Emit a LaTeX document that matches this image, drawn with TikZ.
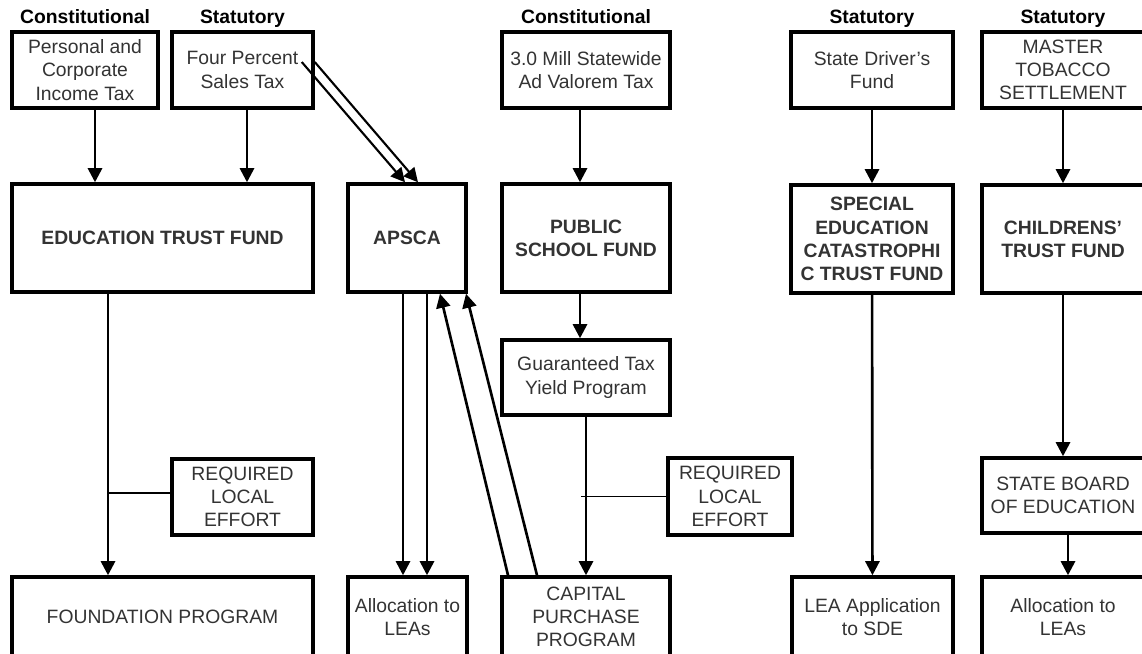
\documentclass[tikz,border=0pt]{standalone}
\usepackage{fontspec}
\setmainfont{Liberation Sans}
\usetikzlibrary{positioning,arrows.meta}

\definecolor{boxtext}{HTML}{333333}

\tikzset{
  fundbox/.style={draw, line width=2pt, align=center, inner sep=2pt, text=boxtext,
    font=\fontsize{11pt}{13.2pt}\selectfont},
  boldbox/.style={fundbox, font=\fontsize{11pt}{13.2pt}\selectfont\bfseries},
  heading/.style={inner sep=1pt, text height=8pt, text depth=2.5pt,
    font=\fontsize{11pt}{13.2pt}\selectfont\bfseries},
  flow/.style={line width=1.5pt, -{Triangle[width=8pt,length=8pt]}},
  tie/.style={line width=0.8pt}
}

\begin{document}
\begin{tikzpicture}[x=0.02cm, y=-0.02cm]
\useasboundingbox (0,0) rectangle (1142,653);

    % Draw revenue sources
    \node[fundbox, minimum width=2.92cm, minimum height=1.52cm] (income) at (85,70) {Personal and\\Corporate\\Income Tax};
    \node[fundbox, minimum width=2.82cm, minimum height=1.52cm] (sales) at (242.5,70) {Four Percent\\Sales Tax};
    \node[fundbox, minimum width=3.36cm, minimum height=1.52cm] (mill) at (586,70) {3.0 Mill Statewide\\Ad Valorem Tax};
    \node[fundbox, minimum width=3.24cm, minimum height=1.52cm] (driver) at (872,70) {State Driver's\\Fund};
    \node[fundbox, minimum width=3.24cm, minimum height=1.52cm] (tobacco) at (1063,70) {MASTER\\TOBACCO\\SETTLEMENT};

    % Draw headings
    \node[heading, above=0pt of income] (incomehead) {Constitutional};
    \node[heading, above=0pt of sales] (saleshead) {Statutory};
    \node[heading, above=0pt of mill] (millhead) {Constitutional};
    \node[heading, above=0pt of driver] (driverhead) {Statutory};
    \node[heading, above=0pt of tobacco] (tobaccohead) {Statutory};

    % Draw funds
    \node[boldbox, minimum width=6.02cm, minimum height=2.16cm] (etf) at (162.5,238) {EDUCATION TRUST FUND};
    \node[boldbox, minimum width=2.36cm, minimum height=2.16cm] (apsca) at (407,238) {APSCA};
    \node[boldbox, minimum width=3.36cm, minimum height=2.16cm] (psf) at (586,238) {PUBLIC\\SCHOOL FUND};
    \node[boldbox, minimum width=3.24cm, minimum height=2.16cm] (special) at (872,239) {SPECIAL\\EDUCATION\\CATASTROPHI\\C TRUST FUND};
    \node[boldbox, minimum width=3.24cm, minimum height=2.16cm] (children) at (1063,239) {CHILDRENS'\\TRUST FUND};

    % Draw middle boxes
    \node[fundbox, minimum width=3.36cm, minimum height=1.5cm] (gty) at (586,377.5) {Guaranteed Tax\\Yield Program};
    \node[fundbox, minimum width=2.82cm, minimum height=1.52cm] (effortA) at (242.5,497) {REQUIRED\\LOCAL\\EFFORT};
    \node[fundbox, minimum width=2.48cm, minimum height=1.54cm] (effortB) at (730,496.5) {REQUIRED\\LOCAL\\EFFORT};
    \node[fundbox, minimum width=3.24cm, minimum height=1.5cm] (board) at (1063,495.5) {STATE BOARD\\OF EDUCATION};

    % Draw programs
    \node[fundbox, minimum width=6.02cm, minimum height=1.6cm] (foundation) at (162.5,617) {FOUNDATION PROGRAM};
    \node[fundbox, minimum width=2.38cm, minimum height=1.6cm] (leas) at (407.5,617) {Allocation to\\LEAs};
    \node[fundbox, minimum width=3.36cm, minimum height=1.6cm] (capital) at (586,617) {CAPITAL\\PURCHASE\\PROGRAM};
    \node[fundbox, minimum width=3.22cm, minimum height=1.6cm] (leasde) at (872.5,617) {LEA Application\\to SDE};
    \node[fundbox, minimum width=3.24cm, minimum height=1.6cm] (leasb) at (1063,617) {Allocation to\\LEAs};

    % Draw flows into the funds
    \draw[flow] ([xshift=0.2cm]income.south) -- ([xshift=0.2cm]income.south |- etf.north);
    \draw[flow] ([xshift=0.09cm]sales.south) -- ([xshift=0.09cm]sales.south |- etf.north);
    \draw[flow, line width=1.2pt] ([shift={(-13,-8)}]sales.east) -- ([xshift=-0.04cm]apsca.north);
    \draw[flow, line width=1.2pt] ([shift={(0,-8)}]sales.east) -- ([xshift=0.22cm]apsca.north);
    \draw[flow] ([xshift=-0.12cm]mill.south) -- ([xshift=-0.12cm]mill.south |- psf.north);
    \draw[flow] (driver) -- (special);
    \draw[flow] (tobacco) -- (children);

    % Draw flows out of the funds
    \coordinate (etfdrop) at ([xshift=-1.09cm]etf.south);
    \draw[flow] (etfdrop) -- (etfdrop |- foundation.north);
    \draw[tie] ([yshift=0.08cm]effortA.west) -- ([yshift=0.08cm]effortA.west -| etfdrop);

    \draw[flow] ([xshift=-0.08cm]apsca.south) -- ([xshift=-0.08cm]apsca.south |- leas.north);
    \draw[flow] ([xshift=0.4cm]apsca.south) -- ([xshift=0.4cm]apsca.south |- leas.north);
    \draw[flow] ([xshift=-1.56cm]capital.north) -- ([xshift=0.66cm]apsca.south);
    \draw[flow] ([xshift=-0.98cm]capital.north) -- ([xshift=1.18cm]apsca.south);

    \draw[flow] ([xshift=-0.12cm]psf.south) -- ([xshift=-0.12cm]psf.south |- gty.north);
    \draw[flow] (gty) -- (capital);
    \draw[tie] (effortB.west) -- ([xshift=-0.1cm]effortB.west -| gty.south);

    \draw[flow] (special) -- (leasde);
    \draw[flow] (children) -- (board);
    \draw[flow] ([xshift=0.1cm]board.south) -- ([xshift=0.1cm]board.south |- leasb.north);

\end{tikzpicture}
\end{document}
